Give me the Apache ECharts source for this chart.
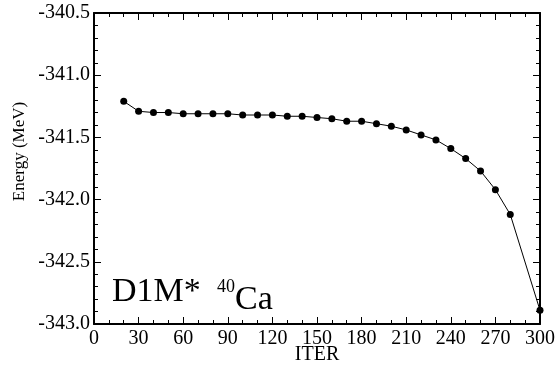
<!DOCTYPE html>
<html>
<head>
<meta charset="utf-8">
<script src="https://cdn.jsdelivr.net/npm/echarts@6/dist/echarts.min.js"></script>
<style>
  html, body { margin: 0; padding: 0; background: #fff; }
  #chart { width: 558px; height: 369px; }
</style>
</head>
<body>
<div id="chart"></div>
<script>
// iteration number
const iters = [20, 30, 40, 50, 60, 70, 80, 90, 100, 110, 120, 130, 140, 150, 160,
  170, 180, 190, 200, 210, 220, 230, 240, 250, 260, 270, 280, 300]
// energy (MeV)
const energy = [-341.21, -341.29, -341.30, -341.30, -341.31, -341.31, -341.31, -341.31,
  -341.32, -341.32, -341.32, -341.33, -341.33, -341.34, -341.35,
  -341.37, -341.37, -341.39, -341.41, -341.44, -341.48, -341.52, -341.59,
  -341.67, -341.77, -341.92, -342.12, -342.89]

const font = 'Liberation Serif'
const chart = echarts.init(document.getElementById('chart'))

const tickStyle = { show: true, inside: true, length: 7, lineStyle: { color: '#000', width: 1 } }
const minorStyle = { length: 4, lineStyle: { color: '#000', width: 1 } }
const lineStyle = { show: true, onZero: false, lineStyle: { color: '#000', width: 2 } }

function xAx(pos, labels) {
  return {
    type: 'value', position: pos, min: 0, max: 300, interval: 30,
    name: labels ? 'ITER' : '', nameLocation: 'middle', nameGap: 21, nameMoveOverlap: false,
    nameTextStyle: { color: '#000', fontFamily: font, fontSize: 20 },
    axisLine: lineStyle,
    axisTick: tickStyle,
    minorTick: Object.assign({ show: true, splitNumber: 3 }, minorStyle),
    splitLine: { show: false },
    axisLabel: { show: labels, color: '#000', fontFamily: font, fontSize: 20, margin: 5 }
  }
}
function yAx(pos, labels) {
  return {
    type: 'value', position: pos, min: -343, max: -340.5, interval: 0.5,
    name: labels ? 'Energy (MeV)' : '', nameLocation: 'middle', nameGap: 66, nameMoveOverlap: false,
    nameTextStyle: { color: '#000', fontFamily: font, fontSize: 17, padding: [0, 0, 0, 34] },
    axisLine: lineStyle,
    axisTick: tickStyle,
    minorTick: Object.assign({ show: true, splitNumber: 5 }, minorStyle),
    splitLine: { show: false },
    axisLabel: {
      show: labels, color: '#000', fontFamily: font, fontSize: 20, margin: 4,
      formatter: v => v.toFixed(1)
    }
  }
}

// "D1M* 40Ca" annotation, drawn as plain title texts
function note(left, top, text, size) {
  return { text: text, left: left, top: top, padding: 0,
    textStyle: { color: '#000', fontFamily: font, fontSize: size, fontWeight: 'normal' } }
}

chart.setOption({
  animation: false,
  title: [
    note(112, 275, 'D1M*', 34),
    note(217, 278, '40', 18),
    note(235, 283, 'Ca', 34)
  ],
  grid: { left: 94, right: 18, top: 13, bottom: 45, outerBoundsMode: 'none', containLabel: false },
  xAxis: [xAx('bottom', true), xAx('top', false)],
  yAxis: [yAx('left', true), yAx('right', false)],
  series: [{
    type: 'line',
    data: iters.map((x, i) => [x, energy[i]]),
    symbol: 'circle',
    symbolSize: 7,
    itemStyle: { color: '#000' },
    lineStyle: { color: '#000', width: 1 }
  }]
})
// rebuild text spans so every label picks up its font, then repaint
chart.getZr().storage.getDisplayList(true)
chart.getZr().refreshImmediately()
</script>
</body>
</html>
